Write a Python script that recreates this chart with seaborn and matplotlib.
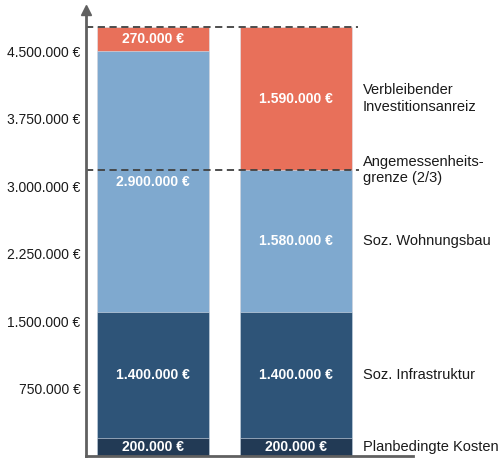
import numpy as np
import pandas as pd
import seaborn as sns
import matplotlib.pyplot as plt

# Chart data
bars = ["A", "B"]
segments = ["Planbedingte Kosten", "Soz. Infrastruktur", "Soz. Wohnungsbau",
            "Verbleibender\nInvestitionsanreiz"]
values_a = [200000, 1400000, 2900000, 270000]
values_b = [200000, 1400000, 1580000, 1590000]
colors = ["#223A55", "#2E5478", "#7FA9CF", "#E8705A"]
yticks = [750000, 1500000, 2250000, 3000000, 3750000, 4500000]
limit_label = "Angemessenheits-\ngrenze (2/3)"


def euro(v):
    return f"{v:,.0f} €".replace(",", ".")


sns.set_theme(style="white")
plt.rcParams["font.family"] = ["Liberation Sans", "DejaVu Sans"]

fig = plt.figure(figsize=(5.04, 4.62), dpi=100)
ax = fig.add_axes([86 / 504, 6 / 462, 327 / 504, 446 / 462])

# stacked bars: draw cumulative totals from top down so each layer overlays
cum_a = np.cumsum(values_a)
cum_b = np.cumsum(values_b)
for i in reversed(range(len(segments))):
    df = pd.DataFrame({"bar": bars, "total": [cum_a[i], cum_b[i]]})
    sns.barplot(data=df, x="bar", y="total", color=colors[i], width=0.783,
                saturation=1, edgecolor="#DDE6EF", linewidth=0.4, ax=ax)

# value labels inside segments
for x, vals, cums in [(0, values_a, cum_a), (1, values_b, cum_b)]:
    for v, c in zip(vals, cums):
        ax.text(x, c - v / 2, euro(v), ha="center", va="center",
                color="white", fontsize=10, fontweight="bold")

# dashed reference lines (total and 2/3 limit)
ax.plot([-0.47, 1.43], [cum_b[-1], cum_b[-1]], ls=(0, (4, 2.5)),
        color="#404040", lw=1.3, clip_on=False)
ax.plot([-0.47, 1.44], [cum_b[2], cum_b[2]], ls=(0, (4, 2.5)),
        color="#404040", lw=1.3, clip_on=False)

# segment names on the right
lx = 1.4685
for name, v, c in zip(segments, values_b, cum_b):
    ax.text(lx, c - v / 2, name, ha="left", va="center", fontsize=10.5,
            color="#1A1A1A", linespacing=1.2)
ax.text(lx, cum_b[2], limit_label, ha="left", va="center", fontsize=10.5,
        color="#1A1A1A", linespacing=1.2)

ax.set_xlim(-0.4685, 1.818)
ax.set_ylim(0, 4.96e6)
ax.set_xticks([])
ax.set_yticks(yticks)
ax.set_yticklabels([euro(t) for t in yticks], fontsize=10, color="#1A1A1A")
ax.tick_params(axis="y", length=0, pad=4)
ax.set_xlabel("")
ax.set_ylabel("")

for side in ["top", "right"]:
    ax.spines[side].set_visible(False)
for side in ["left", "bottom"]:
    ax.spines[side].set_color("#606060")
    ax.spines[side].set_linewidth(2)
ax.plot([-0.4685], [4.96e6], marker="^", color="#606060", markersize=7,
        clip_on=False)

fig.savefig("out.png", dpi=100)
plt.close(fig)
